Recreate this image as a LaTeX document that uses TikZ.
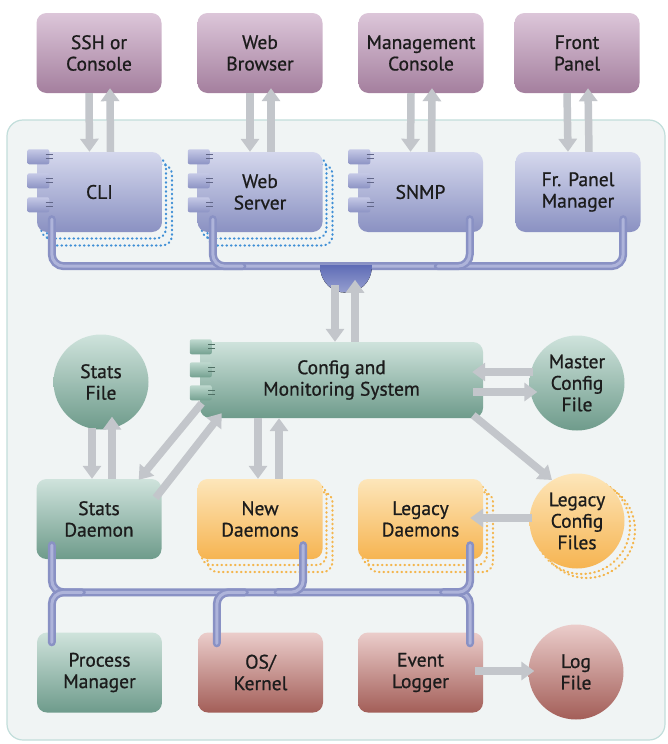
\documentclass[tikz,border=0pt]{standalone}
\usepackage{fontspec}
\setmainfont{PT Sans}[FakeBold=0.8]
\usetikzlibrary{arrows.meta,calc,backgrounds}
\definecolor{pTop}{HTML}{DCC6D9}
\definecolor{pBot}{HTML}{A47F9E}
\definecolor{bTop}{HTML}{D5D8ED}
\definecolor{bBot}{HTML}{8A91C2}
\definecolor{gTop}{HTML}{CFE3DC}
\definecolor{gBot}{HTML}{6E9B8B}
\definecolor{oTop}{HTML}{FDE6BA}
\definecolor{oBot}{HTML}{F6B451}
\definecolor{rTop}{HTML}{EBCDCB}
\definecolor{rBot}{HTML}{A35E58}
\definecolor{panelFill}{HTML}{F0F4F4}
\definecolor{panelLine}{HTML}{C2DEDB}
\definecolor{arrowC}{HTML}{C3C6CB}
\definecolor{busOut}{HTML}{8991C4}
\definecolor{busIn}{HTML}{AEB4DA}
\definecolor{hubTop}{HTML}{5F6CB6}
\definecolor{hubBot}{HTML}{A9B0D8}
\definecolor{dotB}{HTML}{3F8FD6}
\definecolor{dotO}{HTML}{F4B64E}
\definecolor{txt}{HTML}{1C1C1C}
\definecolor{tabBT}{HTML}{C5C9E6}
\definecolor{tabBB}{HTML}{8C93C4}
\definecolor{tabGT}{HTML}{BFD9CF}
\definecolor{tabGB}{HTML}{73A090}
\begin{document}
\begin{tikzpicture}[x=1pt,y=-1pt,
  box/.style={rounded corners=10pt, minimum width=125pt, minimum height=80pt,
    align=center, inner sep=0pt, text=txt, font=\fontsize{19.5}{21.5}\selectfont},
  purplebox/.style={box, top color=pTop, bottom color=pBot},
  bluebox/.style={box, top color=bTop, bottom color=bBot},
  greenbox/.style={box, top color=gTop, bottom color=gBot},
  orangebox/.style={box, top color=oTop, bottom color=oBot},
  redbox/.style={box, top color=rTop, bottom color=rBot},
  circ/.style={circle, minimum size=95pt, inner sep=0pt, align=center, text=txt,
    font=\fontsize{19.5}{21.5}\selectfont},
  gcirc/.style={circ, top color=gTop, bottom color=gBot},
  ocirc/.style={circ, top color=oTop, bottom color=oBot},
  rcirc/.style={circ, top color=rTop, bottom color=rBot},
  tabbox/.style={rounded corners=2pt, minimum width=22pt, minimum height=15pt, inner sep=0pt},
  btab/.style={tabbox, top color=tabBT, bottom color=tabBB},
  gtab/.style={tabbox, top color=tabGT, bottom color=tabGB},
  tabmark/.style={line width=1pt},
  fat/.style={draw=arrowC, line width=7.5pt, -{Triangle[width=18pt,length=13pt]}},
  tube/.style={line width=8pt, draw=busOut, rounded corners=12pt, line cap=round,
    postaction={draw=busIn, line width=3pt}},
  dotsB/.style={draw=dotB, line width=2.2pt, line cap=round, dash pattern=on 0.6pt off 3.9pt, rounded corners=10pt},
  dotsO/.style={draw=dotO, line width=2.2pt, line cap=round, dash pattern=on 0.6pt off 3.9pt, rounded corners=10pt}
]
\fill[white] (0,0) rectangle (667,744);
\useasboundingbox (0,0) rectangle (667,744);

% background panel
\fill[panelFill, draw=panelLine, line width=1.2pt, rounded corners=16pt] (7,120) rectangle (665,740);

% dotted shadows (drawn first, boxes cover them)
\coordinate (cliC) at (99.5,192);
\coordinate (webC) at (260,192);
\coordinate (newC) at (260,519);
\coordinate (legC) at (420.5,519);
\coordinate (lcfC) at (577,521);
\foreach \c in {cliC,webC} {
  \draw[dotsB] ($(\c)+(-58.5,-34.5)$) rectangle ($(\c)+(66.5,46.5)$);
  \draw[dotsB] ($(\c)+(-52.5,-27.5)$) rectangle ($(\c)+(72.5,53.5)$);
}
\foreach \c in {newC,legC} {
  \draw[dotsO] ($(\c)+(-58.5,-34)$) rectangle ($(\c)+(66.5,46)$);
  \draw[dotsO] ($(\c)+(-52.5,-27)$) rectangle ($(\c)+(72.5,53)$);
}
\draw[dotsO] ($(lcfC)+(5,5)$) circle (48pt);
\draw[dotsO] ($(lcfC)+(10,9)$) circle (48pt);

% top row
\node[purplebox] (ssh) at (99,53) {SSH or\\Console};
\node[purplebox] (webb) at (260,53) {Web\\Browser};
\node[purplebox] (mgmt) at (421,53) {Management\\Console};
\node[purplebox] (front) at (577,53) {Front\\Panel};

% second row
\node[bluebox] (cli) at (cliC) {CLI};
\node[bluebox] (websrv) at (webC) {Web\\Server};
\node[bluebox] (snmp) at (420.5,192) {SNMP};
\node[bluebox] (frpm) at (578,192) {Fr. Panel\\Manager};

% config
\node[greenbox, minimum width=283pt, minimum height=76pt] (config) at (341.5,380) {Config and\\Monitoring System};
\node[gcirc] (master) at (577,383) {Master\\Config\\File};
\node[gcirc] (statsf) at (101,382) {Stats\\File};

% fourth row
\node[greenbox] (statsd) at (99,519) {Stats\\Daemon};
\node[orangebox] (newd) at (newC) {New\\Daemons};
\node[orangebox] (legd) at (legC) {Legacy\\Daemons};
\node[ocirc] (lcf) at (lcfC) {Legacy\\Config\\Files};

% bottom row
\node[greenbox] (procm) at (99.5,672.5) {Process\\Manager};
\node[redbox] (oskern) at (260.5,672.5) {OS/\\Kernel};
\node[redbox] (evlog) at (420.5,672.5) {Event\\Logger};
\node[rcirc] (logf) at (576,672) {Log\\File};

% component tabs
\foreach \b in {cli,websrv,snmp} {
  \foreach \i/\dy in {1/5,2/29,3/53} {
    \node[btab] (\b-t\i) at ($(\b.north west)+(1.5,\dy)$) {};
    \draw[tabmark, draw=tabBB!70!black] ($(\b-t\i.east)+(-4,-2)$) -- ++(7,0) ($(\b-t\i.east)+(-4,2)$) -- ++(7,0);
  }
}
\foreach \i/\dy in {1/5,2/28,3/51} {
  \node[gtab] (config-t\i) at ($(config.north west)+(1,\dy)$) {};
  \draw[tabmark, draw=tabGB!70!black] ($(config-t\i.east)+(-4,-2)$) -- ++(7,0) ($(config-t\i.east)+(-4,2)$) -- ++(7,0);
}

% top bus
\draw[tube] ($(cli.south west)+(15,-13)$) |- ($(frpm.south east)+(-17.5,34)$) -- ($(frpm.south east)+(-17.5,-13)$);
\draw[tube] ($(websrv.south west)+(15.5,-13)$) |- ($(websrv.south west)+(45,34)$);
\draw[tube] ($(snmp.south west)+(112,-13)$) |- ($(snmp.south west)+(80,34)$);
\coordinate (hub) at ($(config.north)+(4.5,-76)$);
\fill[top color=hubTop, bottom color=hubBot] ($(hub)+(-26,-1)$) .. controls ($(hub)+(-26,36)$) and ($(hub)+(26,36)$) .. ($(hub)+(26,-1)$) -- cycle;

% bottom bus
\draw[tube] ($(statsd.south west)+(15.5,-14)$) |- ($(evlog.north)+(49.5,-40)$) -- ($(evlog.north)+(49.5,11)$);
\draw[tube] ($(procm.north west)+(45,-40)$) -| ($(procm.north west)+(15,10)$);
\draw[tube] ($(oskern.north west)+(47,-40)$) -| ($(oskern.north west)+(19,11)$);
\draw[tube] ($(newd.south east)+(-19.5,-14)$) |- ($(newd.south east)+(-45,33)$);
\draw[tube] ($(legd.south east)+(-13,-14)$) |- ($(legd.south east)+(-40,33)$);

% arrows top pairs
\foreach \a/\b in {ssh/cli, webb/websrv, mgmt/snmp, front/frpm} {
  \draw[fat] ($(\a.south)+(-10,0)$) -- ($(\b.north)+(-10,0)$);
  \draw[fat] ($(\b.north)+(11,0)$) -- ($(\a.south)+(11,-5)$);
}
% hub <-> config
\draw[fat] ($(config.north)+(-6.5,-57)$) -- ($(config.north)+(-6.5,0)$);
\draw[fat] ($(config.north)+(13.5,0)$) -- ($(config.north)+(13.5,-62)$);
% master
\draw[fat] ($(master.west)+(4,-11)$) -- ($(config.east)+(-11,-8)$);
\draw[fat] ($(config.east)+(-10,12)$) -- ($(master.west)+(8,9)$);
% stats file
\draw[fat] ($(statsf.south)+(-9,-2)$) -- ($(statsd.north)+(-7,0)$);
\draw[fat] ($(statsd.north)+(13,0)$) -- ($(statsf.south)+(11,-13)$);
% diagonals
\draw[fat] ($(config.south west)+(2,-15)$) -- ($(statsd.north east)+(-23,1)$);
\draw[fat] ($(statsd.north east)+(-6,19)$) -- ($(config.south west)+(22,-5)$);
\draw[fat] ($(config.south east)+(-10,-3)$) -- ($(lcf.center)+(-25,-41)$);
% new daemons
\draw[fat] ($(config.south)+(-83.5,0)$) -- ($(newd.north)+(-2,0)$);
\draw[fat] ($(newd.north)+(19,0)$) -- ($(config.south)+(-62.5,0)$);
% legacy
\draw[fat] ($(lcf.west)+(3,-3)$) -- ($(legd.east)+(-13,-1)$);
% log
\draw[fat] ($(evlog.east)+(-8,-1.5)$) -- ($(logf.west)+(6,-1)$);
\end{tikzpicture}
\end{document}
